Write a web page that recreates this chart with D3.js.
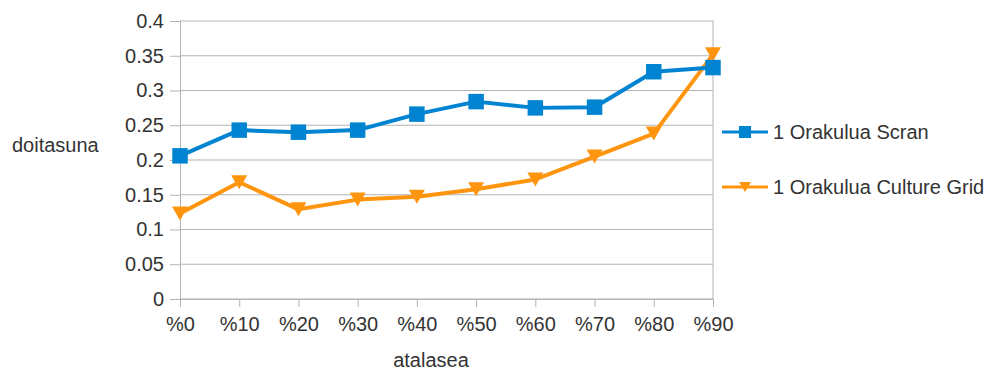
<!DOCTYPE html>
<html>
<head>
<meta charset="utf-8">
<script src="https://cdn.jsdelivr.net/npm/d3@7"></script>
<style>
  html, body { margin: 0; padding: 0; background: #fff; }
  svg text { font-family: "Liberation Sans", Arial, sans-serif; fill: #333; }
</style>
</head>
<body>
<svg id="chart" width="985" height="372"></svg>
<script>
// Categories (x axis) and the two series
const categories = ["%0", "%10", "%20", "%30", "%40", "%50", "%60", "%70", "%80", "%90"];
const scranValues = [0.206, 0.243, 0.240, 0.243, 0.266, 0.284, 0.275, 0.276, 0.327, 0.333];
const cultureGridValues = [0.123, 0.168, 0.129, 0.143, 0.147, 0.158, 0.172, 0.205, 0.238, 0.352];
const yTicks = [0, 0.05, 0.1, 0.15, 0.2, 0.25, 0.3, 0.35, 0.4];
const seriesNames = ["1 Orakulua Scran", "1 Orakulua Culture Grid"];
const yTitle = "doitasuna";
const xTitle = "atalasea";

const colors = ["#0084d1", "#ff950e"];
const fontSize = 20;

const svg = d3.select("#chart");
const plot = { left: 180, right: 713, top: 21, bottom: 299 };

const x = d3.scalePoint().domain(categories).range([plot.left, plot.right]).padding(0);
const y = d3.scaleLinear().domain([0, 0.4]).range([plot.bottom, plot.top]);

// Horizontal grid lines
svg.append("g")
  .selectAll("line")
  .data(yTicks)
  .join("line")
  .attr("x1", plot.left).attr("x2", plot.right)
  .attr("y1", d => y(d)).attr("y2", d => y(d))
  .attr("stroke", "#b3b3b3").attr("stroke-width", 1);

// Right border of the plot area
svg.append("line")
  .attr("x1", plot.right).attr("x2", plot.right)
  .attr("y1", plot.top).attr("y2", plot.bottom)
  .attr("stroke", "#b3b3b3");

// Y axis
const yAxis = svg.append("g")
  .attr("transform", `translate(${plot.left},0)`)
  .call(d3.axisLeft(y).tickValues(yTicks).tickFormat(d => String(d)).tickSize(10).tickPadding(6));
yAxis.select(".domain").attr("stroke", "#b3b3b3");
yAxis.selectAll(".tick line").attr("stroke", "#b3b3b3");
yAxis.selectAll("text").attr("font-size", fontSize).attr("fill", "#333")
  .attr("font-family", "Liberation Sans, Arial, sans-serif");

// X axis
const xAxis = svg.append("g")
  .attr("transform", `translate(0,${plot.bottom})`)
  .call(d3.axisBottom(x).tickSize(8).tickPadding(10));
xAxis.select(".domain").attr("stroke", "#b3b3b3");
xAxis.selectAll(".tick line").attr("stroke", "#b3b3b3");
xAxis.selectAll("text").attr("font-size", fontSize).attr("fill", "#333")
  .attr("font-family", "Liberation Sans, Arial, sans-serif");

// Axis titles
svg.append("text")
  .attr("x", 12).attr("y", 152)
  .attr("font-size", fontSize)
  .text(yTitle);
svg.append("text")
  .attr("x", 431).attr("y", 367)
  .attr("text-anchor", "middle")
  .attr("font-size", fontSize)
  .text(xTitle);

// Marker shapes
const squareMarker = d3.symbol().type(d3.symbolSquare).size(240);
const triPath = "M-8,-7L8,-7L0,7Z";

const series = [
  { name: seriesNames[0], values: scranValues, color: colors[0], marker: "square" },
  { name: seriesNames[1], values: cultureGridValues, color: colors[1], marker: "tri" }
];

const line = d3.line()
  .x((d, i) => x(categories[i]))
  .y(d => y(d));

function drawMarker(sel, s) {
  if (s.marker === "square") {
    sel.append("path").attr("d", squareMarker()).attr("fill", s.color);
  } else {
    sel.append("path").attr("d", triPath).attr("fill", s.color);
  }
}

// Draw orange first so the blue series sits on top
series.slice().reverse().forEach(s => {
  const g = svg.append("g");
  g.append("path")
    .datum(s.values)
    .attr("d", line)
    .attr("fill", "none")
    .attr("stroke", s.color)
    .attr("stroke-width", 4)
    .attr("stroke-linejoin", "round");
  g.selectAll("g.pt")
    .data(s.values)
    .join("g")
    .attr("class", "pt")
    .attr("transform", (d, i) => `translate(${x(categories[i])},${y(d)})`)
    .each(function () { drawMarker(d3.select(this), s); });
});

// Legend
const legendY = [132, 187];
series.forEach((s, i) => {
  const g = svg.append("g").attr("transform", `translate(0,${legendY[i]})`);
  g.append("line")
    .attr("x1", 722).attr("x2", 768)
    .attr("y1", 0).attr("y2", 0)
    .attr("stroke", s.color).attr("stroke-width", 3);
  const m = g.append("g").attr("transform", "translate(745,0)");
  if (s.marker === "square") {
    m.append("path").attr("d", d3.symbol().type(d3.symbolSquare).size(144)()).attr("fill", s.color);
  } else {
    m.append("path").attr("d", "M-6,-5L6,-5L0,5Z").attr("fill", s.color);
  }
  g.append("text")
    .attr("x", 773).attr("y", 7)
    .attr("font-size", fontSize)
    .text(s.name);
});
</script>
</body>
</html>
